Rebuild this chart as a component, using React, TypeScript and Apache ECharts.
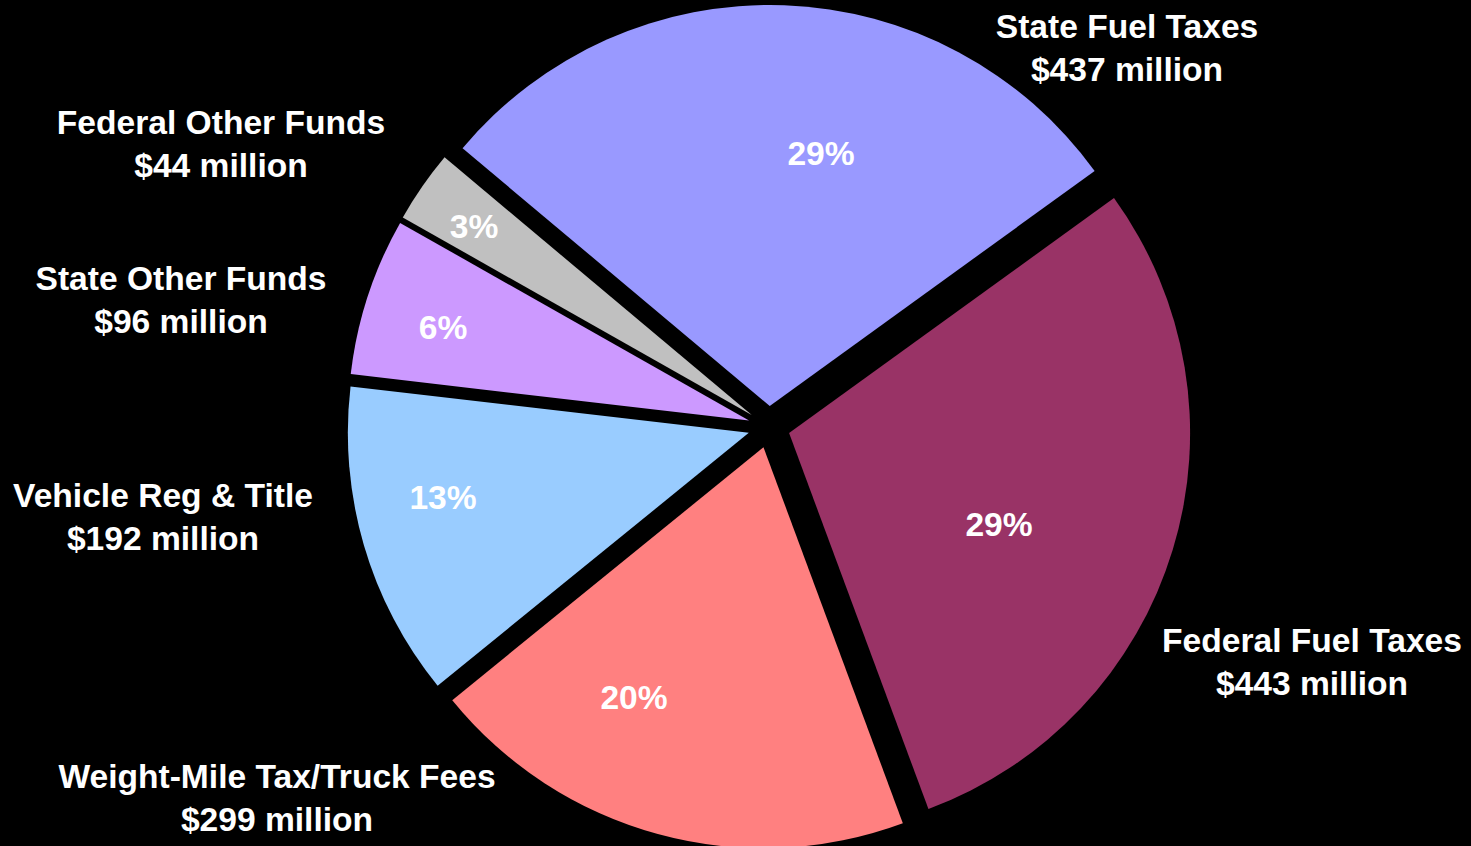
import React, { useEffect, useRef } from 'react';
import * as echarts from 'echarts';

// ---- data ----
const categories = [
  'State Fuel Taxes',
  'Federal Fuel Taxes',
  'Weight-Mile Tax/Truck Fees',
  'Vehicle Reg & Title',
  'State Other Funds',
  'Federal Other Funds',
];
const valuesMillions = [437, 443, 299, 192, 96, 44];

// ---- styles / layout (not data) ----
const sliceColors = ['#9999FF', '#993366', '#FF8080', '#99CCFF', '#CC99FF', '#C0C0C0'];
const nameLabelPos: number[][] = [
  [1127, 48],
  [1312, 662],
  [277, 798],
  [163, 517],
  [181, 300],
  [221, 144],
];
const pctLabelPos: number[][] = [
  [821, 153],
  [999, 524],
  [634, 697],
  [443, 497],
  [443, 327],
  [474, 226],
];

const FONT = '"Liberation Sans", Arial, Helvetica, sans-serif';
const FONT_SIZE = 33.6;
const CENTER = [769, 427];
const RADIUS = 401;

export default function App() {
  const ref = useRef<HTMLDivElement>(null);

  useEffect(() => {
    if (!ref.current) return;
    const chart = echarts.init(ref.current, undefined, { renderer: 'svg' });

    const sliceData = categories.map((name, i) => ({
      name,
      value: valuesMillions[i],
      selected: true,
      itemStyle: { color: sliceColors[i] },
      select: { itemStyle: { color: sliceColors[i], borderWidth: 0 } },
    }));

    const labelData = categories.map((name, i) => ({
      name,
      value: valuesMillions[i],
      itemStyle: { color: 'rgba(0,0,0,0)' },
    }));

    const common = {
      type: 'pie' as const,
      center: CENTER,
      radius: RADIUS,
      startAngle: 140,
      clockwise: true,
      avoidLabelOverlap: false,
      silent: true,
      emphasis: { disabled: true },
      labelLine: { show: false },
      itemStyle: { borderWidth: 0 },
    };

    const textStyle = {
      color: '#FFFFFF',
      fontFamily: FONT,
      fontWeight: 'bold' as const,
      fontSize: FONT_SIZE,
    };

    chart.setOption({
      animation: false,
      backgroundColor: '#000000',
      series: [
        {
          ...common,
          data: sliceData,
          selectedMode: 'multiple',
          selectedOffset: 21,
          label: { show: false },
        },
        {
          ...common,
          data: labelData,
          selectedMode: false,
          z: 3,
          label: {
            show: true,
            position: 'inside',
            formatter: (p: any) => `${Math.round(p.percent)}%`,
            ...textStyle,
          },
          labelLayout: (p: any) => ({
            x: pctLabelPos[p.dataIndex][0],
            y: pctLabelPos[p.dataIndex][1],
            align: 'center',
            verticalAlign: 'middle',
          }),
        },
        {
          ...common,
          data: labelData,
          selectedMode: false,
          z: 3,
          label: {
            show: true,
            position: 'outside',
            formatter: (p: any) => `${p.name}\n$${p.value} million`,
            ...textStyle,
            lineHeight: 43,
            align: 'center',
          },
          labelLayout: (p: any) => ({
            x: nameLabelPos[p.dataIndex][0],
            y: nameLabelPos[p.dataIndex][1],
            align: 'center',
            verticalAlign: 'middle',
          }),
        },
      ],
    });

    return () => chart.dispose();
  }, []);

  return (
    <div
      ref={ref}
      style={{ position: 'fixed', left: 0, top: 0, width: 1471, height: 846, background: '#000' }}
    />
  );
}
